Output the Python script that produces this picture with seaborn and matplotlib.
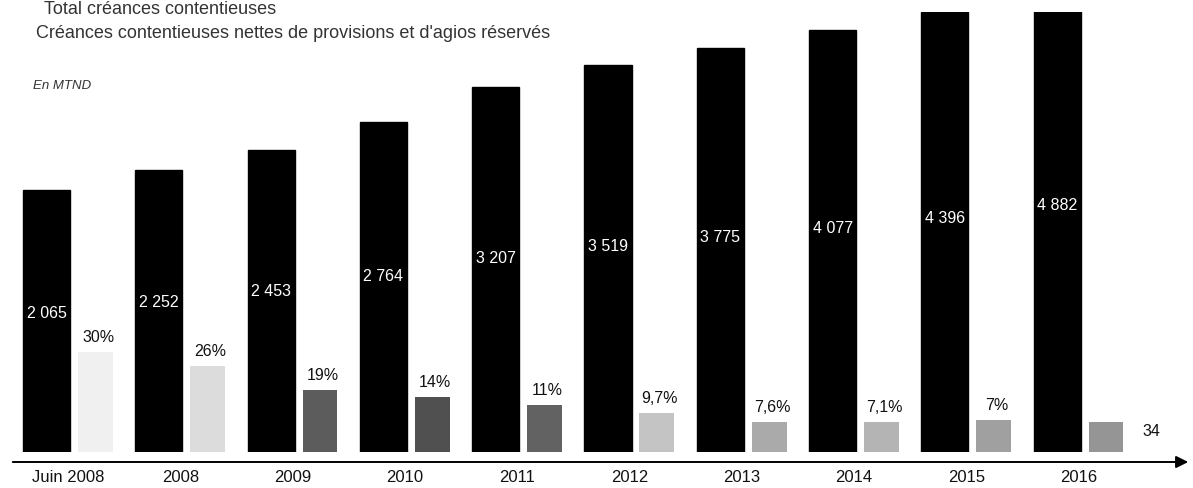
import numpy as np
import pandas as pd
import matplotlib
matplotlib.use('Agg')
import matplotlib.pyplot as plt
import seaborn as sns

sns.set_theme(style='white')
plt.rcParams['font.family'] = ['Liberation Sans', 'DejaVu Sans']

# donnees (en MTND)
years = ['Juin 2008', '2008', '2009', '2010', '2011', '2012', '2013', '2014', '2015', '2016']
total = [2065, 2252, 2453, 2764, 3207, 3519, 3775, 4077, 4396, 4882]
# creances nettes : hauteurs (echelle approximative)
net = [1040, 980, 885, 859, 830, 802, 772, 772, 779, 772]
net_labels = ['30%', '26%', '19%', '14%', '11%', '9,7%', '7,6%', '7,1%', '7%', '34']
net_colors = ['#f0f0f0', '#dcdcdc', '#5c5c5c', '#505050', '#626262',
              '#c4c4c4', '#aaaaaa', '#b4b4b4', '#a0a0a0', '#959595']

df = pd.DataFrame({
    'annee': years * 2,
    'serie': ['total'] * len(years) + ['net'] * len(years),
    'valeur': total + net,
})

fig = plt.figure(figsize=(11.93, 4.88), dpi=100)
ax = fig.add_axes([0, 36 / 488, 1, 440 / 488])

sns.barplot(data=df, x='annee', y='valeur', hue='serie', palette=['black', '#999999'],
            width=0.8, dodge=True, errorbar=None, legend=False, ax=ax)
ax.set_yscale('log')
ax.set_ylim(680, 4400)
ax.set_xlim(-0.605, 10.02)

# geometrie des barres (largeurs differentes comme sur l'original)
black_bars = ax.containers[0]
grey_bars = ax.containers[1]
for i, p in enumerate(black_bars):
    p.set_width(0.42)
    p.set_x(i - 0.19 - 0.21)
    p.set_facecolor('black')
    p.set_edgecolor('black')
for i, p in enumerate(grey_bars):
    p.set_width(0.31)
    p.set_x(i + 0.245 - 0.155)
    p.set_facecolor(net_colors[i])
    p.set_edgecolor('none')

ax.set_xlabel('')
ax.set_ylabel('')
ax.yaxis.set_visible(False)
for s in ax.spines.values():
    s.set_visible(False)
ax.tick_params(axis='x', length=0, pad=13, labelsize=12, labelcolor='#111111')

# valeurs dans les barres noires
lo, hi = ax.get_ylim()
for i, p in enumerate(black_bars):
    v = total[i]
    y = lo * (v / lo) ** 0.53
    ax.text(p.get_x() + p.get_width() / 2, y, f'{v:,}'.replace(',', ' '),
            color='white', ha='center', va='center', fontsize=11.5)

# pourcentages au-dessus des barres grises
for i, p in enumerate(grey_bars):
    if i < len(grey_bars) - 1:
        ax.annotate(net_labels[i], xy=(p.get_x() + p.get_width() / 2, net[i]),
                    xytext=(2, 5), textcoords='offset points',
                    ha='center', va='bottom', fontsize=11.5, color='#111111')
    else:
        ax.annotate(net_labels[i], xy=(p.get_x() + p.get_width(), net[i]),
                    xytext=(14, -7), textcoords='offset points',
                    ha='left', va='center', fontsize=11.5, color='#111111')

# axe horizontal avec fleche
ax.annotate('', xy=(1191 / 1193, -10 / 440), xytext=(10 / 1193, -10 / 440),
            xycoords='axes fraction',
            arrowprops=dict(arrowstyle='-|>', color='black', lw=1.4, mutation_scale=18),
            annotation_clip=False)

fig.text(44 / 1193, 1 - 9 / 488, 'Total créances contentieuses',
         va='center', ha='left', fontsize=13, color='#333333')
fig.text(36 / 1193, 1 - 34 / 488, "Créances contentieuses nettes de provisions et d'agios réservés",
         va='center', ha='left', fontsize=13, color='#333333')
fig.text(33 / 1193, 1 - 86 / 488, 'En MTND', va='center', ha='left',
         fontsize=9.5, style='italic', color='#333333')

fig.savefig('out.png', dpi=100)
